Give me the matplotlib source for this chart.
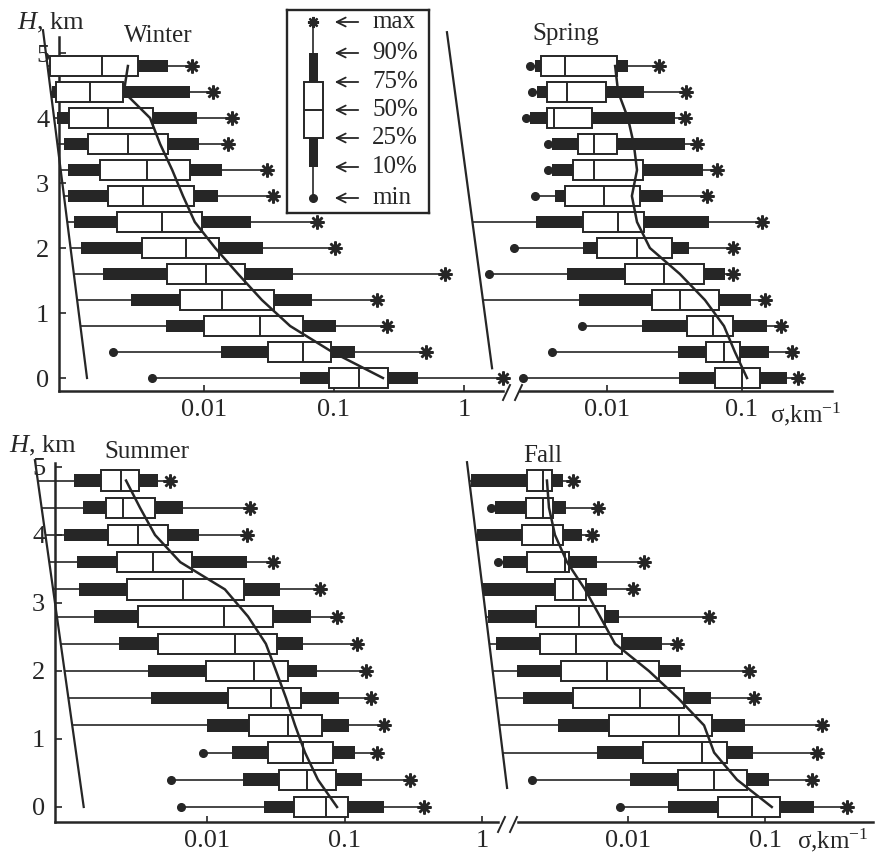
import numpy as np
import matplotlib
matplotlib.use("Agg")
import matplotlib.pyplot as plt
from matplotlib.lines import Line2D

plt.rcParams['font.family'] = ['Liberation Serif', 'DejaVu Serif']
plt.rcParams['mathtext.fontset'] = 'custom'
plt.rcParams['mathtext.rm'] = 'Liberation Serif'
plt.rcParams['mathtext.it'] = 'Liberation Serif:italic'

# heights of the box rows, km (top row first)
heights = [4.8, 4.4, 4.0, 3.6, 3.2, 2.8, 2.4, 2.0, 1.6, 1.2, 0.8, 0.4, 0.0]

# Winter (None = whisker runs to the slanted line)
winter_min = [None, None, None, None, None, None, None, None, None, None, None, 2.0e-3, 4.0e-3]
winter_p10 = [6.5e-4, 6.8e-4, 7.4e-4, 8.4e-4, 9.0e-4, 9.0e-4, 1.0e-3, 1.13e-3, 1.67e-3, 2.74e-3, 5.1e-3, 0.0135, 0.0547]
winter_p25 = [6.5e-4, 7.3e-4, 9.2e-4, 1.28e-3, 1.58e-3, 1.83e-3, 2.14e-3, 3.33e-3, 5.2e-3, 6.5e-3, 0.010, 0.031, 0.0916]
winter_p50 = [1.64e-3, 1.33e-3, 1.83e-3, 2.6e-3, 3.65e-3, 3.4e-3, 4.75e-3, 7.3e-3, 0.0104, 0.0137, 0.027, 0.0578, 0.156]
winter_p75 = [3.1e-3, 2.38e-3, 4.06e-3, 5.3e-3, 7.8e-3, 8.4e-3, 9.7e-3, 0.013, 0.0207, 0.0345, 0.0578, 0.095, 0.26]
winter_p90 = [5.3e-3, 7.8e-3, 8.8e-3, 9.2e-3, 0.0137, 0.0128, 0.023, 0.0284, 0.0484, 0.0678, 0.1035, 0.145, 0.443]
winter_max = [8.1e-3, 0.0117, 0.0164, 0.0153, 0.0305, 0.034, 0.074, 0.102, 0.71, 0.214, 0.256, 0.51, 2.0]
winter_mean = [2.6e-3, 2.42e-3, 3.85e-3, 4.6e-3, 5.7e-3, 6.9e-3, 8.5e-3, 0.0122, 0.0183, 0.0279, 0.046, 0.097, 0.238]
winter_edge_sigma = [1.26e-3, 5.78e-4]
winter_edge_h = [0.0, 5.35]

# Spring
spring_min = [2.69e-3, 2.78e-3, 2.5e-3, 3.66e-3, 3.66e-3, 2.93e-3, None, 2.05e-3, 1.34e-3, None, 6.53e-3, 3.92e-3, 2.39e-3]
spring_p10 = [2.93e-3, 3.03e-3, 2.69e-3, 3.92e-3, 3.92e-3, 4.12e-3, 2.98e-3, 6.6e-3, 5.06e-3, 6.2e-3, 0.0182, 0.0336, 0.0341]
spring_p25 = [3.24e-3, 3.6e-3, 3.6e-3, 6.1e-3, 5.6e-3, 4.89e-3, 6.6e-3, 8.44e-3, 0.0136, 0.0215, 0.0392, 0.054, 0.063]
spring_p50 = [4.89e-3, 5.06e-3, 4.05e-3, 8.0e-3, 8.0e-3, 9.5e-3, 0.0121, 0.0167, 0.0264, 0.0347, 0.061, 0.0736, 0.100]
spring_p75 = [0.0119, 9.8e-3, 7.74e-3, 0.0119, 0.0185, 0.0175, 0.0188, 0.0303, 0.0524, 0.0676, 0.0857, 0.0966, 0.136]
spring_p90 = [0.0143, 0.0188, 0.0319, 0.0379, 0.0514, 0.026, 0.057, 0.0404, 0.0748, 0.117, 0.153, 0.158, 0.215]
spring_max = [0.0243, 0.0385, 0.0379, 0.0464, 0.0653, 0.055, 0.141, 0.0857, 0.0857, 0.148, 0.194, 0.234, 0.26]
spring_mean = [0.0115, 0.0121, 0.0143, 0.0158, 0.0167, 0.0153, 0.0167, 0.0208, 0.0347, 0.0532, 0.0736, 0.0887, 0.109]
spring_edge_sigma = [1.41e-3, 6.53e-4]
spring_edge_h = [0.15, 5.32]

# Summer
summer_min = [None, None, None, None, None, None, None, None, None, None, 9.35e-3, 5.47e-3, 6.47e-3]
summer_p10 = [1.08e-3, 1.25e-3, 9.1e-4, 1.13e-3, 1.17e-3, 1.51e-3, 2.29e-3, 3.72e-3, 3.92e-3, 0.010, 0.0152, 0.0183, 0.026]
summer_p25 = [1.69e-3, 1.84e-3, 1.9e-3, 2.21e-3, 2.62e-3, 3.15e-3, 4.41e-3, 9.8e-3, 0.0142, 0.0202, 0.0278, 0.0334, 0.043]
summer_p50 = [2.37e-3, 2.45e-3, 3.15e-3, 4.05e-3, 6.68e-3, 0.0133, 0.016, 0.022, 0.0292, 0.0388, 0.0499, 0.0533, 0.0733]
summer_p75 = [3.2e-3, 4.19e-3, 5.2e-3, 7.78e-3, 0.0186, 0.0302, 0.0323, 0.0388, 0.0483, 0.0686, 0.0824, 0.0867, 0.106]
summer_p90 = [4.4e-3, 6.68e-3, 8.75e-3, 0.0195, 0.034, 0.057, 0.0499, 0.063, 0.0912, 0.108, 0.119, 0.134, 0.194]
summer_max = [5.38e-3, 0.0206, 0.0195, 0.0302, 0.0664, 0.088, 0.123, 0.143, 0.156, 0.194, 0.172, 0.299, 0.378]
summer_mean = [2.58e-3, 3.26e-3, 4.19e-3, 6.4e-3, 0.0135, 0.0199, 0.0268, 0.0318, 0.0376, 0.0437, 0.0516, 0.0641, 0.0882]
summer_edge_sigma = [1.27e-3, 5.61e-4]
summer_edge_h = [0.0, 5.10]

# Fall
fall_min = [None, 1.0e-3, None, 1.12e-3, None, None, None, None, None, None, None, 1.99e-3, 8.74e-3]
fall_p10 = [7.15e-4, 1.07e-3, 7.9e-4, 1.22e-3, 8.75e-4, 9.5e-4, 1.09e-3, 1.55e-3, 1.71e-3, 3.08e-3, 5.94e-3, 0.0103, 0.0196]
fall_p25 = [1.83e-3, 1.8e-3, 1.68e-3, 1.83e-3, 2.93e-3, 2.13e-3, 2.28e-3, 3.24e-3, 3.97e-3, 7.26e-3, 0.0129, 0.0232, 0.0454]
fall_p50 = [2.4e-3, 2.4e-3, 2.84e-3, 3.47e-3, 3.97e-3, 4.38e-3, 4.17e-3, 7.03e-3, 0.0123, 0.0236, 0.0347, 0.0425, 0.0803]
fall_p75 = [2.79e-3, 2.84e-3, 3.36e-3, 3.71e-3, 4.94e-3, 6.79e-3, 9.04e-3, 0.0168, 0.0257, 0.041, 0.0528, 0.0739, 0.128]
fall_p90 = [3.35e-3, 3.52e-3, 4.62e-3, 5.94e-3, 7.03e-3, 8.6e-3, 0.0177, 0.0244, 0.0404, 0.0714, 0.0817, 0.107, 0.228]
fall_max = [3.97e-3, 6.04e-3, 5.46e-3, 0.0131, 0.0109, 0.039, 0.0228, 0.0764, 0.0832, 0.261, 0.24, 0.22, 0.397]
fall_mean = [2.56e-3, 2.65e-3, 2.93e-3, 3.59e-3, 4.85e-3, 6.25e-3, 8.04e-3, 0.0142, 0.0232, 0.0359, 0.0425, 0.0625, 0.112]
fall_edge_sigma = [1.31e-3, 6.68e-4]
fall_edge_h = [0.28, 5.07]

legend_labels = ["max", "90%", "75%", "50%", "25%", "10%", "min"]

INK = '#262626'
W, H = 881, 865
fig = plt.figure(figsize=(W / 100, H / 100), dpi=100)


def px_box(x0, y0, x1, y1):
    # pixel box (top-left origin) -> figure fraction
    return [x0 / W, 1 - y1 / H, (x1 - x0) / W, (y1 - y0) / H]


def draw_season(ax, mins, p10, p25, p50, p75, p90, pmax, mean, edge_s, edge_h):
    h = np.array(heights)
    p10 = np.array(p10); p25 = np.array(p25); p50 = np.array(p50)
    p75 = np.array(p75); p90 = np.array(p90); pmax = np.array(pmax)
    # slanted lower-limit line
    ax.plot(edge_s, edge_h, color=INK, lw=1.6, clip_on=False, zorder=2)
    # left end of whiskers
    edge_log = np.interp(h, edge_h, np.log10(edge_s))
    lo = np.array([10 ** e if m is None else m for m, e in zip(mins, edge_log)])
    ax.hlines(h, lo, p10, color=INK, lw=1.2, clip_on=False, zorder=3)
    ax.hlines(h, p90, pmax, color=INK, lw=1.2, clip_on=False, zorder=3)
    ax.barh(h, p25 - p10, left=p10, height=0.185, color=INK, lw=0, clip_on=False, zorder=4)
    ax.barh(h, p90 - p75, left=p75, height=0.185, color=INK, lw=0, clip_on=False, zorder=4)
    ax.barh(h, p75 - p25, left=p25, height=0.3, color='white', edgecolor=INK, lw=1.4,
            clip_on=False, zorder=5)
    ax.vlines(p50, h - 0.15, h + 0.15, color=INK, lw=1.4, clip_on=False, zorder=6)
    ax.plot(mean, h, color=INK, lw=1.8, clip_on=False, zorder=7)
    ax.plot(pmax, h, ls='none', marker=(8, 2, 0), ms=10, mew=1.8, color=INK,
            clip_on=False, zorder=8)
    dots_s = [m for m in mins if m is not None]
    dots_h = [hh for m, hh in zip(mins, heights) if m is not None]
    ax.plot(dots_s, dots_h, ls='none', marker='o', ms=5.5, color=INK, clip_on=False, zorder=8)


def style_axes(ax, xlim, ylim, ticks, left_axis, ybound):
    ax.set_xscale('log')
    ax.set_xlim(xlim)
    ax.set_ylim(ylim)
    ax.set_facecolor('none')
    for s in ['top', 'right']:
        ax.spines[s].set_visible(False)
    ax.spines['bottom'].set_linewidth(1.8)
    ax.spines['bottom'].set_color(INK)
    ax.set_xticks(ticks)
    ax.set_xticklabels([('%g' % t) for t in ticks])
    ax.xaxis.set_minor_locator(matplotlib.ticker.NullLocator())
    ax.tick_params(axis='x', direction='in', length=4, width=1.2, pad=6,
                   labelsize=19, colors=INK)
    if left_axis:
        ax.spines['left'].set_linewidth(1.8)
        ax.spines['left'].set_color(INK)
        ax.spines['left'].set_bounds(ylim[0], ybound)
        ax.set_yticks([0, 1, 2, 3, 4, 5])
        ax.tick_params(axis='y', direction='in', length=5, width=1.2, pad=7,
                       labelsize=19, colors=INK)
    else:
        ax.spines['left'].set_visible(False)
        ax.set_yticks([])


top_ylim = (-0.2, 5.354)
bot_ylim = (-0.221, 5.176)

ax_w = fig.add_axes(px_box(59, 30, 503, 391))
style_axes(ax_w, (10 ** -3.115, 10 ** 0.30), top_ylim, [0.01, 0.1, 1], True, 5.25)
draw_season(ax_w, winter_min, winter_p10, winter_p25, winter_p50, winter_p75,
            winter_p90, winter_max, winter_mean, winter_edge_sigma, winter_edge_h)

ax_sp = fig.add_axes(px_box(520, 30, 832, 391))
style_axes(ax_sp, (10 ** -2.644, 10 ** -0.333), top_ylim, [0.01, 0.1], False, None)
draw_season(ax_sp, spring_min, spring_p10, spring_p25, spring_p50, spring_p75,
            spring_p90, spring_max, spring_mean, spring_edge_sigma, spring_edge_h)

ax_su = fig.add_axes(px_box(55, 455, 498, 822))
style_axes(ax_su, (10 ** -3.105, 10 ** 0.116), bot_ylim, [0.01, 0.1, 1], True, 5.06)
draw_season(ax_su, summer_min, summer_p10, summer_p25, summer_p50, summer_p75,
            summer_p90, summer_max, summer_mean, summer_edge_sigma, summer_edge_h)

ax_f = fig.add_axes(px_box(518, 455, 873, 822))
style_axes(ax_f, (10 ** -2.803, 10 ** -0.212), bot_ylim, [0.01, 0.1], False, None)
draw_season(ax_f, fall_min, fall_p10, fall_p25, fall_p50, fall_p75,
            fall_p90, fall_max, fall_mean, fall_edge_sigma, fall_edge_h)


def fx(x):
    return x / W


def fy(y):
    return 1 - y / H


# axis break marks
for (xa, xb, ya, yb) in [(503, 510, 400, 385), (515, 522, 400, 385),
                         (498, 505, 832, 817), (510, 517, 832, 817)]:
    fig.add_artist(Line2D([fx(xa), fx(xb)], [fy(ya), fy(yb)], color=INK, lw=1.4))

# titles and axis names
fig.text(fx(158), fy(36), "Winter", fontsize=18, ha='center', va='center', color=INK)
fig.text(fx(566), fy(34), "Spring", fontsize=18, ha='center', va='center', color=INK)
fig.text(fx(147), fy(452), "Summer", fontsize=18, ha='center', va='center', color=INK)
fig.text(fx(543), fy(456), "Fall", fontsize=18, ha='center', va='center', color=INK)
fig.text(fx(17), fy(23), r"$\mathit{H}$, km", fontsize=19, ha='left', va='center', color=INK)
fig.text(fx(9), fy(446), r"$\mathit{H}$, km", fontsize=19, ha='left', va='center', color=INK)
fig.text(fx(770), fy(414), r"σ,km$^{\mathregular{-1}}$", fontsize=18, ha='left', va='center', color=INK)
fig.text(fx(797), fy(840), r"σ,km$^{\mathregular{-1}}$", fontsize=18, ha='left', va='center', color=INK)

# legend key
lg = fig.add_axes(px_box(287, 10, 429, 213))
lg.set_xlim(0, 142)
lg.set_ylim(203, 0)
lg.set_xticks([])
lg.set_yticks([])
for s in lg.spines.values():
    s.set_linewidth(1.7)
    s.set_color(INK)
key_y = [12, 43, 72, 100, 128, 157, 188]
lg.vlines(26, key_y[0], key_y[1], color=INK, lw=1.2)
lg.vlines(26, key_y[5], key_y[6], color=INK, lw=1.2)
lg.bar(26, key_y[2] - key_y[1], bottom=key_y[1], width=9, color=INK, lw=0)
lg.bar(26, key_y[5] - key_y[4], bottom=key_y[4], width=9, color=INK, lw=0)
lg.bar(26, key_y[4] - key_y[2], bottom=key_y[2], width=19, color='white', edgecolor=INK, lw=1.4)
lg.hlines(key_y[3], 16.5, 35.5, color=INK, lw=1.4)
lg.plot(26, key_y[0], marker=(8, 2, 0), ms=8, mew=1.6, color=INK)
lg.plot(26, key_y[6], marker='o', ms=5.5, color=INK)
for yy, lab in zip(key_y, legend_labels):
    lg.annotate("", xy=(45, yy), xytext=(74, yy),
                arrowprops=dict(arrowstyle='->', color=INK, lw=1.3, mutation_scale=16))
    lg.text(85, yy, lab, fontsize=18, ha='left', va='center', color=INK)

fig.savefig("out.png", dpi=100)
